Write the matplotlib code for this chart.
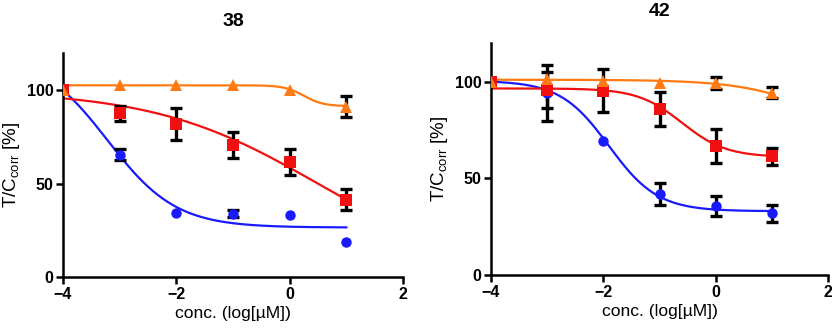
import numpy as np
import matplotlib
matplotlib.use("Agg")
import matplotlib.pyplot as plt

plt.rcParams['font.family'] = ['Liberation Sans', 'DejaVu Sans']

x_conc = [-4, -3, -2, -1, 0, 1]

# Panel "38"
p38_blue = [100, 65.5, 34.5, 34, 33, 18.8]
p38_blue_err = [None, 3.0, None, 1.8, None, None]
p38_red = [100, 87.8, 81.8, 70.8, 61.8, 41.5]
p38_red_err = [None, 4.0, 8.5, 7.0, 7.0, 5.6]
p38_orange = [100, 102.7, 102.7, 102.7, 100.4, 91.2]
p38_orange_err = [None, None, None, None, None, 5.6]
# 4PL fit parameters: top, bottom, logIC50, hill
p38_fit_blue = [120, 26.5, -3.215, 0.72]
p38_fit_red = [100, 0, 0.5, 0.3]
p38_fit_orange = [102.7, 91.5, 0.25, 2.5]

# Panel "42"
p42_blue = [100, 94.2, 69.5, 41.9, 35.7, 31.9]
p42_blue_err = [None, 14.5, None, 5.7, 5.2, 4.3]
p42_red = [100, 95.7, 95.4, 86.0, 66.8, 61.5]
p42_red_err = [None, 9.3, 10.9, 8.8, 8.9, 4.4]
p42_orange = [100, 101.5, 100.5, 99.2, 99.2, 94.2]
p42_orange_err = [None, None, None, None, 3.1, 2.9]
p42_fit_blue = [100.5, 33, -1.9, 1.0]
p42_fit_red = [96.5, 61, -0.6, 1.1]
p42_fit_orange = [101, 60, 2.1, 0.6]

titles = ["38", "42"]
ylabel = "T/C$_{\\mathregular{corr}}$ [%]"
xlabel = "conc. (log[µM])"

BLUE = '#1a1aff'
RED = '#f01010'
ORANGE = '#ff7a12'


def four_pl(x, p):
    top, bottom, c, h = p
    return bottom + (top - bottom) / (1 + 10 ** ((x - c) * h))


def draw(ax, series):
    xs = np.linspace(x_conc[0], x_conc[-1], 300)
    for (vals, errs, fit, color, marker, ms, z) in series:
        ax.plot(xs, four_pl(xs, fit), color=color, lw=1.6, zorder=z)
    for (vals, errs, fit, color, marker, ms, z) in series:
        ex = [x for x, e in zip(x_conc, errs) if e is not None]
        ey = [v for v, e in zip(vals, errs) if e is not None]
        ee = [e for e in errs if e is not None]
        if ex:
            ax.errorbar(ex, ey, yerr=ee, fmt='none', ecolor='black',
                        elinewidth=2.4, capsize=4.3, capthick=2.4, zorder=4)
    for (vals, errs, fit, color, marker, ms, z) in series:
        ax.plot(x_conc, vals, linestyle='none', marker=marker, color=color,
                markersize=ms, markeredgewidth=0, zorder=5 + z)
    ax.set_xlim(-4, 2)
    ax.set_ylim(0, 120)
    ax.set_xticks([-4, -2, 0, 2])
    ax.set_yticks([0, 50, 100])
    for s in ['top', 'right']:
        ax.spines[s].set_visible(False)
    for s in ['left', 'bottom']:
        ax.spines[s].set_linewidth(1.8)
    ax.tick_params(direction='out', length=5, width=1.8, labelsize=11.5, pad=2)
    for lab in ax.get_xticklabels() + ax.get_yticklabels():
        lab.set_fontweight('bold')
    ax.set_xlabel(xlabel, fontsize=12.6, labelpad=3)
    ax.set_ylabel(ylabel, fontsize=13.5, labelpad=3)


fig = plt.figure(figsize=(8.32, 3.30), dpi=100)
ax1 = fig.add_axes([63 / 832, 1 - 277 / 330, 340 / 832, 224 / 330])
ax2 = fig.add_axes([491 / 832, 1 - 275 / 330, 337 / 832, 232 / 330])

draw(ax1, [
    (p38_blue, p38_blue_err, p38_fit_blue, BLUE, 'o', 7.5, 1),
    (p38_red, p38_red_err, p38_fit_red, RED, 's', 8.3, 2),
    (p38_orange, p38_orange_err, p38_fit_orange, ORANGE, '^', 8.3, 3),
])
draw(ax2, [
    (p42_blue, p42_blue_err, p42_fit_blue, BLUE, 'o', 7.5, 1),
    (p42_red, p42_red_err, p42_fit_red, RED, 's', 8.3, 2),
    (p42_orange, p42_orange_err, p42_fit_orange, ORANGE, '^', 8.3, 3),
])

fig.text(233 / 832, 1 - 22 / 330, titles[0], ha='center', va='center',
         fontsize=14, fontweight='bold')
fig.text(660 / 832, 1 - 11 / 330, titles[1], ha='center', va='center',
         fontsize=14, fontweight='bold')

fig.savefig('out.png', dpi=100)
